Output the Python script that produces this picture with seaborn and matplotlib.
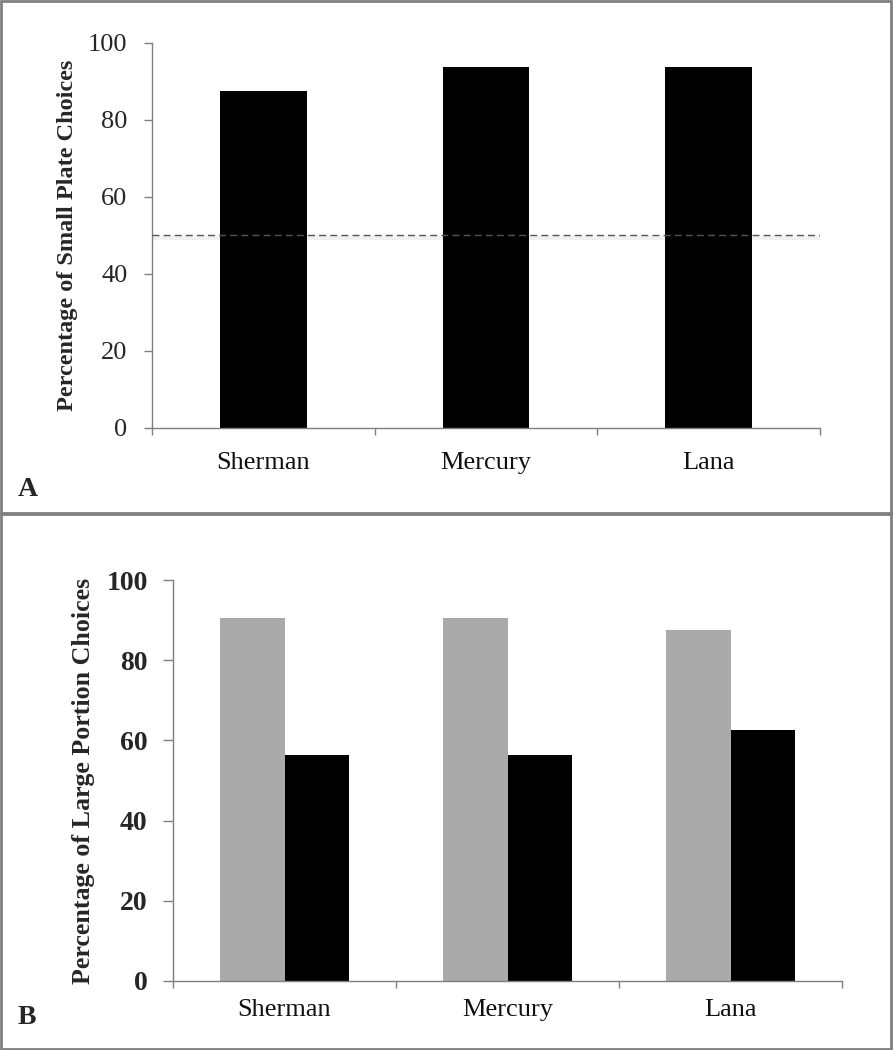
import numpy as np
import pandas as pd
import seaborn as sns
import matplotlib.pyplot as plt
from matplotlib.patches import Rectangle

# ---- data ----
subjects = ["Sherman", "Mercury", "Lana"]
small_plate = [87.5, 93.75, 93.75]
large_gray = [90.6, 90.6, 87.5]
large_black = [56.25, 56.25, 62.5]
yticks = [0, 20, 40, 60, 80, 100]

sns.set_theme(style="white")
plt.rcParams["font.family"] = ["Liberation Serif", "DejaVu Serif"]

W, H = 893, 1050
fig = plt.figure(figsize=(W / 100, H / 100), dpi=100)


def ax_at(x0, x1, ytop, ybot):
    return fig.add_axes([x0 / W, 1 - ybot / H, (x1 - x0) / W, (ybot - ytop) / H])


spine_col = "#7f7f7f"


def style_axes(ax, label_px, tick_len, pad):
    for s in ["top", "right"]:
        ax.spines[s].set_visible(False)
    for s in ["left", "bottom"]:
        ax.spines[s].set_color(spine_col)
        ax.spines[s].set_linewidth(1.0)
    ax.set_ylim(0, 100)
    ax.set_xlim(-0.5, 2.5)
    ax.set_yticks(yticks)
    # ticks sit on category boundaries
    ax.set_xticks([-0.5, 0.5, 1.5, 2.5])
    ax.set_xticklabels([])
    ax.tick_params(axis="x", direction="out", length=5, width=1,
                   color=spine_col, bottom=True)
    ax.tick_params(axis="y", direction="out", length=tick_len, width=1,
                   color=spine_col, left=True, pad=pad)
    h = ax.get_position().height * H
    for i, name in enumerate(subjects):
        ax.text(i, -label_px / h, name, transform=ax.get_xaxis_transform(),
                ha="center", va="center", fontsize=19, color="#111111")


# ---- Panel A ----
axA = ax_at(152, 820, 43, 428)
dfA = pd.DataFrame({"subject": subjects, "pct": small_plate})
sns.barplot(data=dfA, x="subject", y="pct", color="black", width=0.39,
            saturation=1, ax=axA, linewidth=0)
axA.axhline(49.4, color="#f0f0f0", lw=3, zorder=0.5)
axA.axhline(50, color="#555555", lw=1, ls=(0, (5, 3)), zorder=3)
axA.set_xlabel("")
axA.set_ylabel("Percentage of Small Plate Choices", fontsize=17.5,
               fontweight="bold", labelpad=7)
style_axes(axA, 35, 5.8, 12)
for lab in axA.get_yticklabels():
    lab.set_fontsize(19)

# ---- Panel B ----
axB = ax_at(173, 842, 580, 981)
dfB = pd.DataFrame({
    "subject": subjects * 2,
    "cond": ["gray"] * 3 + ["black"] * 3,
    "pct": large_gray + large_black,
})
sns.barplot(data=dfB, x="subject", y="pct", hue="cond",
            palette={"gray": "#aaaaaa", "black": "black"}, width=0.574,
            saturation=1, ax=axB, legend=False, gap=0, linewidth=0)
axB.set_xlabel("")
axB.set_ylabel("Percentage of Large Portion Choices", fontsize=18.7,
               fontweight="bold", labelpad=8)
style_axes(axB, 29, 7.2, 11)
for lab in axB.get_yticklabels():
    lab.set_fontsize(20)
    lab.set_fontweight("bold")

# ---- panel frames and letters ----
frame_col = "#808080"
fig.patches.append(Rectangle((1 / W, 1 - 513 / H), (W - 3) / W, 512 / H,
                             transform=fig.transFigure, fill=False,
                             edgecolor=frame_col, lw=2))
fig.patches.append(Rectangle((1 / W, 1 / H), (W - 3) / W, (H - 515) / H,
                             transform=fig.transFigure, fill=False,
                             edgecolor=frame_col, lw=2))
fig.text(18 / W, 1 - 490 / H, "A", fontsize=20, fontweight="bold",
         ha="left", va="center")
fig.text(18 / W, 1 - 1018 / H, "B", fontsize=20, fontweight="bold",
         ha="left", va="center")

fig.savefig("out.png", dpi=100)
